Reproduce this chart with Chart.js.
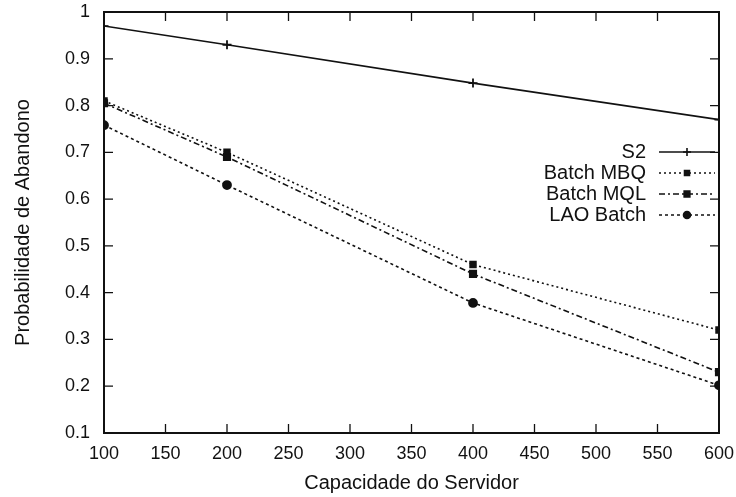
<!DOCTYPE html>
<html>
<head>
<meta charset="utf-8">
<script src="https://cdn.jsdelivr.net/npm/chart.js@4"></script>
<style>
  html, body { margin: 0; padding: 0; background: #fff; }
  #wrap { width: 736px; height: 497px; }
</style>
</head>
<body>
<div id="wrap"><canvas id="chart" width="736" height="497"></canvas></div>
<script>
const capacities = [100, 200, 400, 600];
const s2 = [0.97, 0.93, 0.848, 0.77];
const batchMBQ = [0.81, 0.70, 0.46, 0.32];
const batchMQL = [0.805, 0.69, 0.44, 0.23];
const laoBatch = [0.758, 0.63, 0.378, 0.202];
const seriesNames = ['S2', 'Batch MBQ', 'Batch MQL', 'LAO Batch'];
const xTicks = [100, 150, 200, 250, 300, 350, 400, 450, 500, 550, 600];
const yTicks = [0.1, 0.2, 0.3, 0.4, 0.5, 0.6, 0.7, 0.8, 0.9, 1];

const ink = '#111';
const font = 'Liberation Sans, Arial, Helvetica, sans-serif';

function pts(vals) {
    return vals.map((v, i) => ({ x: capacities[i], y: v }));
}

const styles = [
    { dash: [], point: 'cross', radius: 4.5 },
    { dash: [2, 3], point: 'rect', radius: 4 },
    { dash: [6, 3, 2, 3], point: 'rect', radius: 4.5 },
    { dash: [3, 3], point: 'circle', radius: 4 }
];

const datasets = [s2, batchMBQ, batchMQL, laoBatch].map((vals, i) => ({
    label: seriesNames[i],
    data: pts(vals),
    borderColor: ink,
    backgroundColor: ink,
    borderWidth: 1.6,
    borderDash: styles[i].dash,
    pointStyle: styles[i].point,
    pointRadius: styles[i].radius,
    pointBorderWidth: 1.8,
    tension: 0
}));

// gnuplot style frame, inward ticks, and right-aligned key
const framePlugin = {
    id: 'frame',
    afterDraw(chart) {
        const { ctx, chartArea: a, scales } = chart;
        ctx.save();
        ctx.strokeStyle = ink;
        ctx.lineWidth = 2;
        ctx.setLineDash([]);
        ctx.strokeRect(a.left, a.top, a.right - a.left, a.bottom - a.top);
        ctx.lineWidth = 1.3;
        ctx.beginPath();
        yTicks.forEach(t => {
            const y = scales.y.getPixelForValue(t);
            ctx.moveTo(a.left, y); ctx.lineTo(a.left + 9, y);
            ctx.moveTo(a.right, y); ctx.lineTo(a.right - 9, y);
        });
        xTicks.forEach(t => {
            const x = scales.x.getPixelForValue(t);
            ctx.moveTo(x, a.bottom); ctx.lineTo(x, a.bottom - 9);
            ctx.moveTo(x, a.top); ctx.lineTo(x, a.top + 9);
        });
        ctx.stroke();

        // key
        ctx.font = '20px ' + font;
        ctx.fillStyle = ink;
        ctx.textAlign = 'right';
        ctx.textBaseline = 'middle';
        chart.data.datasets.forEach((ds, i) => {
            const y = 152 + i * 21;
            ctx.fillText(ds.label, 646, y);
            ctx.beginPath();
            ctx.setLineDash(ds.borderDash);
            ctx.lineWidth = ds.borderWidth;
            ctx.moveTo(659, y); ctx.lineTo(715, y);
            ctx.stroke();
            ctx.setLineDash([]);
            Chart.helpers.drawPoint(ctx, {
                pointStyle: ds.pointStyle,
                radius: ds.pointRadius - 0.5,
                rotation: 0,
                borderWidth: ds.pointBorderWidth
            }, 687, y);
        });
        ctx.restore();
    }
};

new Chart(document.getElementById('chart'), {
    type: 'line',
    data: { datasets },
    options: {
        responsive: false,
        animation: false,
        layout: { padding: { top: 12, right: 17, left: 0, bottom: 0 } },
        plugins: {
            legend: { display: false },
            tooltip: { enabled: false }
        },
        scales: {
            x: {
                type: 'linear',
                min: 100, max: 600,
                afterBuildTicks: s => { s.ticks = xTicks.map(v => ({ value: v })); },
                afterFit: s => { s.height = 64; s.paddingLeft = 0; s.paddingRight = 0; },
                grid: { display: false, drawTicks: false },
                border: { display: false },
                ticks: { color: ink, font: { family: font, size: 18 }, padding: 10, maxRotation: 0 },
                title: {
                    display: true, text: 'Capacidade do Servidor',
                    color: ink, font: { family: font, size: 20 }, padding: { top: 0, bottom: 2 }
                }
            },
            y: {
                min: 0.1, max: 1,
                afterBuildTicks: s => { s.ticks = yTicks.map(v => ({ value: v })); },
                afterFit: s => { s.width = 104; s.paddingTop = 0; s.paddingBottom = 0; },
                grid: { display: false, drawTicks: false },
                border: { display: false },
                ticks: { color: ink, font: { family: font, size: 18 }, padding: 14,
                         callback: v => String(v) },
                title: {
                    display: true, text: 'Probabilidade de Abandono',
                    color: ink, font: { family: font, size: 20 }, padding: { top: 11, bottom: 0 }
                }
            }
        }
    },
    plugins: [framePlugin]
});
</script>
</body>
</html>
